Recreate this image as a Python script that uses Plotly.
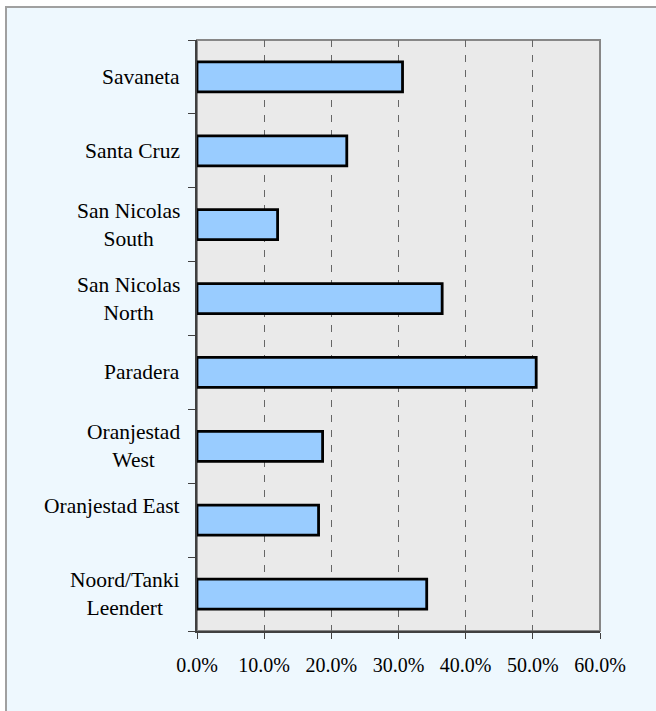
import plotly.graph_objects as go

# Categories listed bottom-to-top
categories = ["Noord/Tanki Leendert", "Oranjestad East", "Oranjestad West", "Paradera",
              "San Nicolas North", "San Nicolas South", "Santa Cruz", "Savaneta"]
labels = ["Noord/Tanki<br>Leendert", "Oranjestad East<br> ", "Oranjestad<br>West", "Paradera",
          "San Nicolas<br>North", "San Nicolas<br>South", "Santa Cruz", "Savaneta"]
values = [0.342, 0.181, 0.187, 0.505, 0.365, 0.120, 0.223, 0.306]
x_ticks = [0, 0.1, 0.2, 0.3, 0.4, 0.5, 0.6]

W, H = 656, 711
L, R, T, B = 197, 56, 40, 80
pw, ph = W - L - R, H - T - B

def px_x(p):
    return (p - L) / pw

def px_y(p):
    return (H - B - p) / ph

fig = go.Figure()
fig.add_trace(go.Bar(
    x=values, y=categories, orientation="h",
    marker=dict(color="#99CCFF", line=dict(color="#000000", width=2.8)),
    hoverinfo="x+y", showlegend=False,
))

font_family = "Liberation Serif, Times New Roman, serif"

annotations = []
for c, lab in zip(categories, labels):
    annotations.append(dict(
        x=0, xref="paper", y=c, yref="y", text=lab, showarrow=False,
        xanchor="right", yanchor="middle", align="center", xshift=-15,
        font=dict(family=font_family, size=21.5, color="#000000"),
    ))

shapes = [
    dict(type="rect", xref="paper", yref="paper",
         x0=px_x(6), x1=px_x(W + 20), y0=px_y(7), y1=px_y(H + 20),
         fillcolor="#EEF8FE", line=dict(color="#A0A0A0", width=2), layer="below"),
    dict(type="rect", xref="paper", yref="paper",
         x0=0, x1=1, y0=0, y1=1,
         fillcolor="#EAEAEA", line=dict(color="#878787", width=2), layer="below"),
]

fig.update_layout(
    width=W, height=H,
    margin=dict(l=L, r=R, t=T, b=B, pad=0),
    paper_bgcolor="#FFFFFF",
    plot_bgcolor="rgba(0,0,0,0)",
    bargap=0.593,
    font=dict(family=font_family, size=20, color="#000000"),
    annotations=annotations,
    shapes=shapes,
    xaxis=dict(
        range=[0, 0.6], tickvals=x_ticks, tickformat=".1%",
        showgrid=True, gridcolor="#666666", gridwidth=1, griddash="7px,8px",
        showline=True, linecolor="#404040", linewidth=2,
        ticks="outside", ticklen=6, tickcolor="#404040", tickwidth=1,
        ticklabelstandoff=9, zeroline=False,
        tickfont=dict(family=font_family, size=20, color="#000000"),
        fixedrange=True,
    ),
    yaxis=dict(
        type="category", categoryorder="array", categoryarray=categories,
        range=[-0.5, 7.5], showticklabels=False,
        showline=True, linecolor="#404040", linewidth=2,
        ticks="outside", ticklen=7, tickcolor="#404040", tickwidth=1,
        tickson="boundaries", showgrid=False, zeroline=False,
        fixedrange=True,
    ),
)

fig.write_html(
    "out.html",
    config={"displayModeBar": False},
    post_script="document.body.style.margin='0';document.body.style.overflow='hidden';",
)
